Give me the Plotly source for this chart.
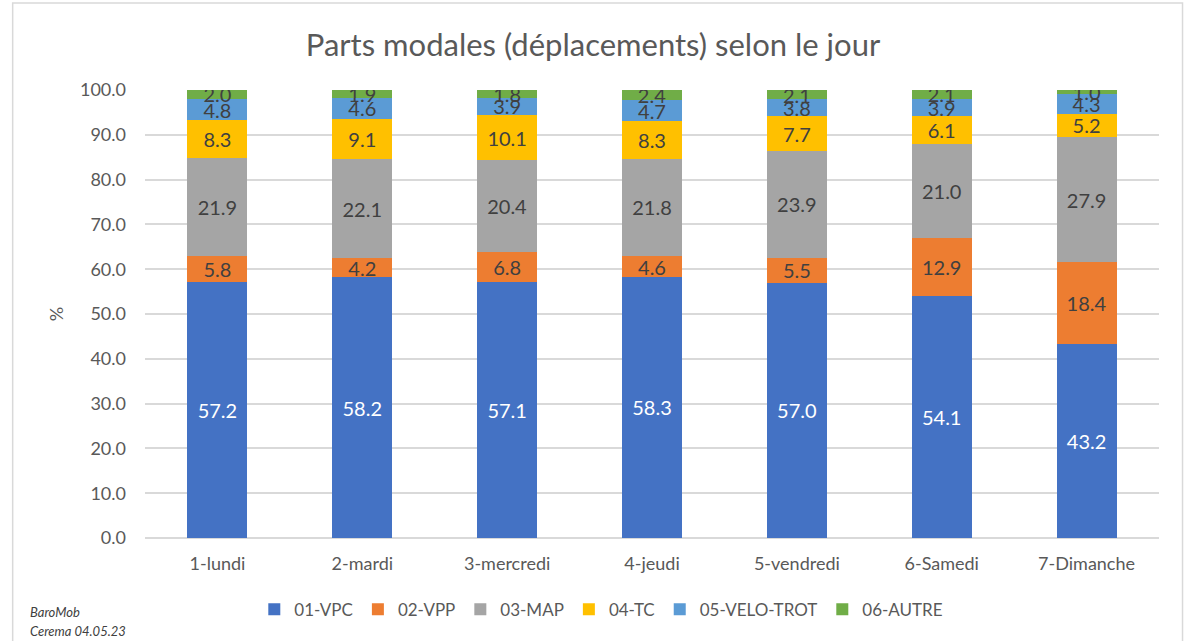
import plotly.graph_objects as go

days = ["1-lundi", "2-mardi", "3-mercredi", "4-jeudi", "5-vendredi", "6-Samedi", "7-Dimanche"]
vpc = [57.2, 58.2, 57.1, 58.3, 57.0, 54.1, 43.2]
vpp = [5.8, 4.2, 6.8, 4.6, 5.5, 12.9, 18.4]
map_ = [21.9, 22.1, 20.4, 21.8, 23.9, 21.0, 27.9]
tc = [8.3, 9.1, 10.1, 8.3, 7.7, 6.1, 5.2]
velo = [4.8, 4.6, 3.9, 4.7, 3.8, 3.9, 4.3]
autre = [2.0, 1.9, 1.8, 2.4, 2.1, 2.1, 1.0]

series = [
    ("01-VPC", vpc, "#4472C4", "white"),
    ("02-VPP", vpp, "#ED7D31", "#404040"),
    ("03-MAP", map_, "#A5A5A5", "#404040"),
    ("04-TC", tc, "#FFC000", "#404040"),
    ("05-VELO-TROT", velo, "#5B9BD5", "#404040"),
    ("06-AUTRE", autre, "#70AD47", "#404040"),
]

FONT = "Lato, 'Open Sans', sans-serif"
fig = go.Figure()
for name, vals, color, tcol in series:
    fig.add_trace(go.Bar(
        x=days, y=vals, name=name,
        marker=dict(color=color, line=dict(width=0)),
        texttemplate="%{y:.1f}", textposition="inside",
        insidetextanchor="middle", constraintext="none",
        textfont=dict(color=tcol, size=20, family=FONT),
        hoverinfo="skip",
    ))

fig.update_layout(
    barmode="stack",
    bargap=0.586,
    width=1186, height=641,
    margin=dict(l=144.5, r=26.5, t=90, b=103, autoexpand=False),
    paper_bgcolor="white", plot_bgcolor="white",
    font=dict(family=FONT, color="#595959"),
    uniformtext=dict(minsize=20, mode="show"),
    title=dict(text="Parts modales (déplacements) selon le jour",
               x=0.5, xanchor="center", y=0.93, yanchor="middle",
               font=dict(size=31, color="#595959", family=FONT)),
    legend=dict(orientation="h", x=0.45, xanchor="center", y=-0.16, yanchor="middle",
                font=dict(size=17, color="#595959", family=FONT),
                traceorder="normal", itemwidth=30),
    xaxis=dict(showline=False, ticks="", tickfont=dict(size=18, color="#595959"),
               showgrid=False, automargin=False, ticklabelstandoff=13),
    yaxis=dict(range=[0, 100], dtick=10, tickformat=".1f", automargin=False,
               gridcolor="#D9D9D9", gridwidth=1.5, zeroline=True, zerolinecolor="#D9D9D9",
               zerolinewidth=1.5, showline=False, ticklabelstandoff=18,
               tickfont=dict(size=18, color="#595959"), ticks="",
               title=dict(text="%", font=dict(size=18, color="#595959"), standoff=11)),
    shapes=[dict(type="rect", xref="paper", yref="paper",
                 x0=-0.1305, x1=1.0232, y0=-0.24, y1=1.194,
                 line=dict(color="#D9D9D9", width=1.5), fillcolor="rgba(0,0,0,0)")],
    annotations=[
        dict(text="<i>BaroMob</i>", xref="paper", yref="paper", x=-0.1158, y=-0.165,
             xanchor="left", yanchor="middle", showarrow=False,
             font=dict(size=13, color="#404040", family=FONT)),
        dict(text="<i>Cerema 04.05.23</i>", xref="paper", yref="paper", x=-0.1158, y=-0.2076,
             xanchor="left", yanchor="middle", showarrow=False,
             font=dict(size=13, color="#404040", family=FONT)),
    ],
)

fig.write_html("out.html", config={"displayModeBar": False},
               post_script="document.body.style.margin='0';")
